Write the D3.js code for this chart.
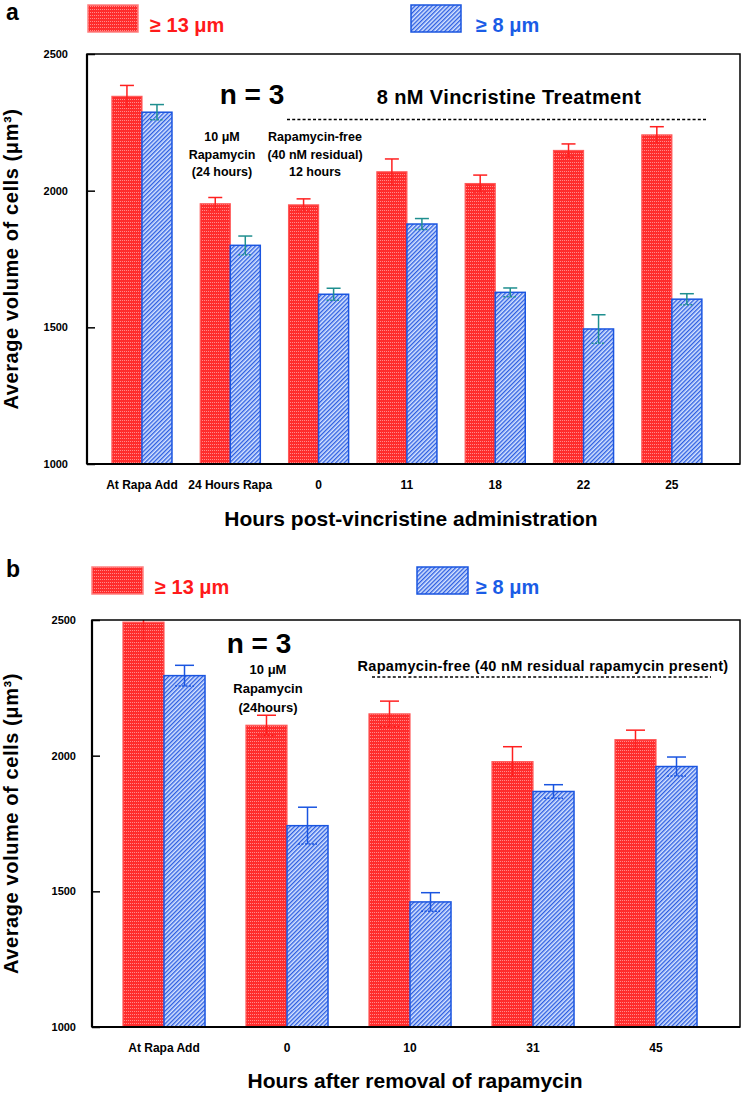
<!DOCTYPE html>
<html>
<head>
<meta charset="utf-8">
<script src="https://cdn.jsdelivr.net/npm/d3@7"></script>
<style>
html,body{margin:0;padding:0;background:#fff;}
svg{display:block;}
text{font-family:"Liberation Sans",Arial,sans-serif;font-weight:bold;}
</style>
</head>
<body>
<svg id="chart" width="742" height="1093"></svg>
<script>
// ---------- DATA ----------
const catsA = ["At Rapa Add","24 Hours Rapa","0","11","18","22","25"];
const redA = [2345,1952,1948,2069,2026,2147,2204];
const redErrA = [40,23,22,47,31,24,30];
const blueA = [2287,1800,1621,1878,1628,1494,1603];
const blueErrA = [28,34,22,20,16,52,20];

const catsB = ["At Rapa Add","0","10","31","45"];
const redB = [2492,2112,2154,1978,2059];
const redErrB = [70,37,47,55,35];
const blueB = [2295,1742,1461,1868,1960];
const blueErrB = [38,68,34,25,35];

const yTicks = [1000,1500,2000,2500];
const yDomain = [1000,2500];
const seriesNames = ["\u2265 13 \u03bcm","\u2265 8 \u03bcm"];
const yTitle = "Average volume of cells (\u03bcm\u00b3)";

// ---------- SETUP ----------
const svg = d3.select("#chart");
const defs = svg.append("defs");

// red fine texture
const pr = defs.append("pattern").attr("id","redPat").attr("patternUnits","userSpaceOnUse")
  .attr("width",2).attr("height",3);
pr.append("rect").attr("width",2).attr("height",3).attr("fill","#ff2d2d");
pr.append("rect").attr("x",0).attr("y",0).attr("width",1).attr("height",1).attr("fill","#ff8c8c");

// blue diagonal hatch
const pb = defs.append("pattern").attr("id","bluePat").attr("patternUnits","userSpaceOnUse")
  .attr("width",3).attr("height",3).attr("patternTransform","rotate(45)");
pb.append("rect").attr("width",3).attr("height",3).attr("fill","#d6e4ff");
pb.append("line").attr("x1",0.7).attr("y1",0).attr("x2",0.7).attr("y2",3)
  .attr("stroke","#2457e0").attr("stroke-width",1.3);

const redStroke = "#ff2020", blueStroke = "#1a55e0";

function drawPanel(cfg){
  const g = svg.append("g");
  const y = d3.scaleLinear().domain(yDomain).range([cfg.bottom, cfg.top]);
  const x = d3.scaleBand().domain(cfg.cats).range(cfg.xRange)
     .paddingInner(cfg.pad).paddingOuter(cfg.pad/2);
  const xs = d3.scaleBand().domain(["red","blue"]).range([0, x.bandwidth()]);

  // clip
  defs.append("clipPath").attr("id","clip"+cfg.id).append("rect")
    .attr("x",cfg.left).attr("y",cfg.top).attr("width",cfg.right-cfg.left).attr("height",cfg.bottom-cfg.top);

  const rows = cfg.cats.map((c,i)=>({c, r:cfg.red[i], re:cfg.redErr[i], b:cfg.blue[i], be:cfg.blueErr[i]}));

  const bars = g.append("g").attr("clip-path","url(#clip"+cfg.id+")");
  bars.selectAll("rect.r").data(rows).join("rect")
    .attr("x",d=>x(d.c)+xs("red")).attr("width",xs.bandwidth())
    .attr("y",d=>y(d.r)).attr("height",d=>y(yDomain[0])-y(d.r))
    .attr("fill","url(#redPat)").attr("stroke","#ff5a5a").attr("stroke-width",1.2);
  bars.selectAll("rect.b").data(rows).join("rect")
    .attr("x",d=>x(d.c)+xs("blue")).attr("width",xs.bandwidth())
    .attr("y",d=>y(d.b)).attr("height",d=>y(yDomain[0])-y(d.b))
    .attr("fill","url(#bluePat)").attr("stroke",blueStroke).attr("stroke-width",1.5);

  function errBars(key, ekey, sub, color){
    const eg = bars.append("g").attr("stroke",color).attr("stroke-width",1.5).attr("fill","none");
    rows.forEach(d=>{
      const cx = x(d.c)+xs(sub)+xs.bandwidth()/2;
      const hi = y(d[key]+d[ekey]), lo = y(d[key]-d[ekey]);
      eg.append("line").attr("x1",cx).attr("x2",cx).attr("y1",hi).attr("y2",lo);
      eg.append("line").attr("x1",cx-cfg.cap/2).attr("x2",cx+cfg.cap/2).attr("y1",hi).attr("y2",hi);
      eg.append("line").attr("x1",cx-cfg.cap/2).attr("x2",cx+cfg.cap/2).attr("y1",lo).attr("y2",lo)
        .attr("stroke-dasharray","2,1.5");
    });
  }
  errBars("r","re","red",redStroke);
  errBars("b","be","blue",cfg.blueErrColor);

  // frame
  g.append("rect").attr("x",cfg.left).attr("y",cfg.top).attr("width",cfg.right-cfg.left)
    .attr("height",cfg.bottom-cfg.top).attr("fill","none").attr("stroke","#000").attr("stroke-width",1.5);
  g.append("line").attr("x1",cfg.left).attr("x2",cfg.left).attr("y1",cfg.top).attr("y2",cfg.bottom)
    .attr("stroke","#000").attr("stroke-width",2.2);
  g.append("line").attr("x1",cfg.left).attr("x2",cfg.right).attr("y1",cfg.bottom).attr("y2",cfg.bottom)
    .attr("stroke","#000").attr("stroke-width",2.2);

  // y axis ticks (inward) and labels
  const yAxis = d3.axisRight(y).tickValues(yTicks).tickSize(8).tickFormat("");
  const ya = g.append("g").attr("transform",`translate(${cfg.left},0)`).call(yAxis);
  ya.select(".domain").remove();
  ya.selectAll(".tick line").attr("stroke","#000").attr("stroke-width",1.5);
  g.selectAll("text.yt").data(yTicks).join("text")
    .attr("x",cfg.tickLabelX).attr("y",d=>y(d)+4).attr("text-anchor","end")
    .attr("font-size",11).attr("fill","#000").text(d=>d);

  // category labels
  g.selectAll("text.cat").data(cfg.cats).join("text")
    .attr("x",d=>x(d)+x.bandwidth()/2).attr("y",cfg.catY).attr("text-anchor","middle")
    .attr("font-size",12).attr("fill","#000").text(d=>d);

  // axis titles
  g.append("text").attr("x",cfg.xTitleX).attr("y",cfg.xTitleY).attr("text-anchor","middle")
    .attr("font-size",21).attr("fill","#000").text(cfg.xTitle);
  const yc = (cfg.top+cfg.bottom)/2;
  g.append("text").attr("transform",`translate(18,${yc}) rotate(-90)`).attr("text-anchor","middle")
    .attr("font-size",20).attr("letter-spacing",0.6).attr("fill","#000").text(yTitle);

  // panel letter
  g.append("text").attr("x",6).attr("y",cfg.letterY).attr("font-size",23).attr("fill","#000").text(cfg.letter);

  // legend
  const L = cfg.legend;
  g.append("rect").attr("x",L.rx1).attr("y",L.ry).attr("width",L.rw).attr("height",L.rh)
    .attr("fill","url(#redPat)").attr("stroke","#ff8080").attr("stroke-width",1.5);
  g.append("text").attr("x",L.tx1).attr("y",L.ty).attr("font-size",20).attr("fill","#ff1a1a").text(seriesNames[0]);
  g.append("rect").attr("x",L.rx2).attr("y",L.ry).attr("width",L.rw).attr("height",L.rh)
    .attr("fill","url(#bluePat)").attr("stroke",blueStroke).attr("stroke-width",1.5);
  g.append("text").attr("x",L.tx2).attr("y",L.ty).attr("font-size",20).attr("fill","#1a5ce6").text(seriesNames[1]);

  // annotations
  cfg.notes.forEach(n=>{
    const t = g.append("text").attr("x",n.x).attr("y",n.y).attr("text-anchor","middle")
      .attr("font-size",n.size).attr("fill","#000");
    if(n.ls) t.attr("letter-spacing",n.ls);
    n.lines.forEach((ln,i)=>{
      t.append("tspan").attr("x",n.x).attr("dy",i===0?0:n.lh).text(ln);
    });
  });
  g.append("line").attr("x1",cfg.dash[0]).attr("x2",cfg.dash[1]).attr("y1",cfg.dash[2]).attr("y2",cfg.dash[2])
    .attr("stroke","#000").attr("stroke-width",1.5).attr("stroke-dasharray","3,2.2");
}

drawPanel({
  id:"A", letter:"a", letterY:20,
  cats:catsA, red:redA, redErr:redErrA, blue:blueA, blueErr:blueErrA,
  left:87, right:740, top:54, bottom:464,
  xRange:[97.8,716], pad:0.32, cap:14, blueErrColor:"#1f8f8f",
  tickLabelX:68, catY:489,
  xTitle:"Hours post-vincristine administration", xTitleX:411, xTitleY:526,
  legend:{rx1:88, rx2:411, ry:5, rw:50, rh:27, tx1:150, tx2:476, ty:32},
  notes:[
    {x:252, y:104, size:28, lines:["n = 3"]},
    {x:509, y:104, size:20, ls:0.4, lines:["8 nM Vincristine Treatment"]},
    {x:222, y:141, size:12.5, lh:17.5, lines:["10 \u03bcM","Rapamycin","(24 hours)"]},
    {x:315, y:141, size:12.5, lh:17.5, lines:["Rapamycin-free","(40 nM residual)","12 hours"]}
  ],
  dash:[287,707,119.5]
});

drawPanel({
  id:"B", letter:"b", letterY:577,
  cats:catsB, red:redB, redErr:redErrB, blue:blueB, blueErr:blueErrB,
  left:92, right:740, top:620, bottom:1027,
  xRange:[102.5,717.5], pad:0.333, cap:19, blueErrColor:"#1a55e0",
  tickLabelX:76, catY:1052,
  xTitle:"Hours after removal of rapamycin", xTitleX:415, xTitleY:1088,
  legend:{rx1:92, rx2:417, ry:567, rw:51, rh:27, tx1:155, tx2:476, ty:594},
  notes:[
    {x:259, y:653, size:28, lines:["n = 3"]},
    {x:268, y:674, size:13, lh:19, lines:["10 \u03bcM","Rapamycin","(24hours)"]},
    {x:543, y:671, size:14.5, ls:0.3, lines:["Rapamycin-free (40 nM residual rapamycin present)"]}
  ],
  dash:[372,711,677]
});
</script>
</body>
</html>
